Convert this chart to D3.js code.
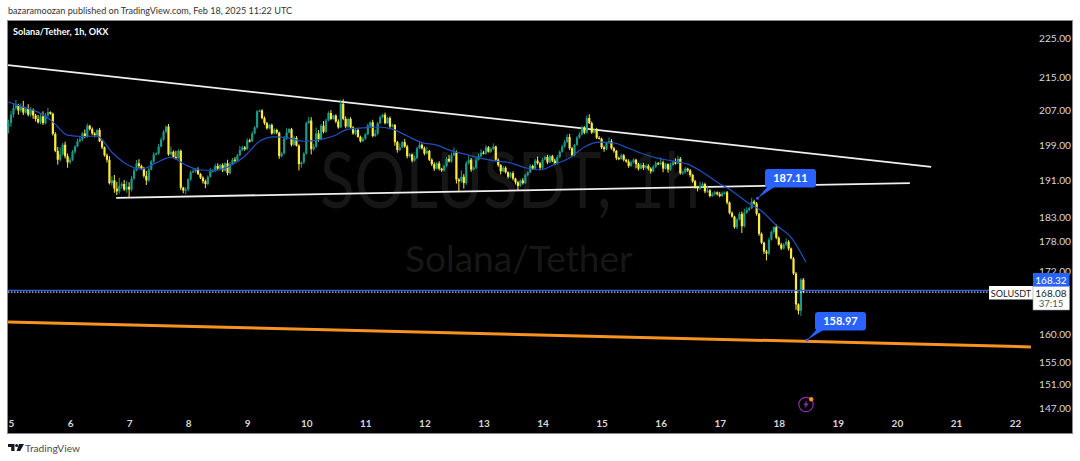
<!DOCTYPE html>
<html><head><meta charset="utf-8">
<script src="https://cdnjs.cloudflare.com/ajax/libs/d3/7.9.0/d3.min.js"></script>
<style>html,body{margin:0;padding:0;background:#fff;overflow:hidden}svg{display:block}text{font-family:Lato,sans-serif}</style>
</head><body><svg id="c" width="1080" height="461"></svg>
<script>
// hourly closes, one row per day
const closes = [
204.0,206.0,207.6,208.2,207.0,207.9,206.5,207.4,206.0,207.2,205.8,205.0,204.2,205.6,204.0,205.8,206.6,206.2,201.5,197.6,195.6,196.8,199.0,196.4,
195.0,195.6,197.4,198.6,199.8,200.2,201.6,200.8,203.4,202.6,201.6,201.2,202.4,199.8,198.4,196.6,195.6,190.4,191.0,189.2,188.6,189.8,190.2,189.0,
189.6,189.0,191.4,193.2,194.8,194.2,193.6,192.0,191.0,193.4,195.2,196.8,197.0,198.6,200.2,202.0,203.2,196.8,197.4,196.2,196.0,197.6,189.4,188.8,
189.0,191.2,192.8,193.0,193.4,192.4,191.6,190.8,190.2,191.8,193.0,193.2,194.2,193.6,194.4,193.2,194.8,192.6,194.6,195.6,195.4,196.6,197.8,198.4,
198.0,200.0,199.8,201.6,203.0,206.8,207.0,205.2,204.0,202.8,203.6,201.6,202.4,201.8,196.4,197.0,200.4,201.8,202.6,199.0,200.6,198.8,194.6,195.0,
197.0,204.0,204.6,198.0,198.6,201.6,200.2,203.4,202.0,204.6,206.4,205.0,205.8,204.4,203.0,208.6,205.0,203.2,205.0,203.0,201.6,202.4,200.8,199.8,
200.4,201.4,203.4,204.2,201.0,201.6,204.0,205.4,206.0,204.0,205.2,203.2,203.6,199.6,197.8,198.4,199.6,198.6,196.4,196.8,195.4,196.0,198.2,199.0,
198.2,197.0,197.6,195.6,194.6,193.6,194.8,193.6,193.2,194.2,195.8,195.2,196.6,197.2,191.2,190.8,191.8,190.4,194.8,195.6,193.4,193.8,195.6,196.4,
197.2,197.0,198.4,197.4,198.0,198.6,195.6,194.4,193.0,193.8,192.8,191.8,192.6,191.4,190.6,189.8,191.0,190.4,192.2,192.8,194.2,193.6,195.4,194.8,
193.8,195.6,196.2,195.0,196.4,195.4,194.8,196.2,197.4,198.6,199.6,200.8,198.2,196.6,199.0,200.6,201.4,203.0,201.8,205.2,204.0,201.8,202.4,200.6,
200.4,198.4,198.0,199.4,199.8,198.2,197.6,196.0,195.8,196.6,195.6,195.2,194.2,195.0,195.6,194.6,193.6,194.4,193.8,194.2,193.6,193.0,194.0,194.8,
194.6,195.0,193.6,194.6,193.4,194.4,195.0,194.8,195.8,192.6,192.8,193.6,193.2,192.2,190.8,189.6,189.2,189.8,190.2,188.6,188.8,187.6,188.0,188.4,
188.0,187.6,188.2,188.4,186.2,184.0,183.2,181.0,182.6,183.8,181.2,184.0,184.6,185.0,186.4,186.0,183.8,179.6,177.8,176.0,175.6,178.4,180.0,181.0,
178.8,177.4,176.6,177.4,178.0,176.6,174.6,171.6,165.6,164.4,170.4,168.08];
const wickUp = [
0.8,0.9,1.2,1.3,0.4,0.8,1.4,0.5,1.1,0.6,0.3,0.4,0.9,0.5,1.2,0.6,1.0,0.2,0.3,0.4,0.9,1.6,0.4,0.7,
0.6,0.5,0.4,0.3,0.6,0.8,0.3,0.9,0.5,0.2,0.4,0.3,0.2,0.5,0.3,0.2,0.4,0.8,0.9,1.2,1.5,1.8,0.4,0.9,
1.3,1.0,0.6,0.5,0.7,0.9,0.3,0.4,1.1,0.4,0.3,0.5,0.3,0.6,0.5,0.4,0.3,0.6,1.2,0.3,1.4,0.4,0.3,0.2,
0.5,0.3,0.4,0.6,0.3,0.5,0.2,0.3,0.4,0.3,0.7,0.3,0.5,0.6,0.3,0.4,0.2,0.8,0.5,0.4,0.6,0.3,0.9,0.4,
0.3,0.5,0.4,0.5,0.3,0.3,0.2,0.3,0.4,0.3,0.2,0.3,0.4,0.3,0.2,0.4,0.6,1.0,0.3,0.3,0.5,0.4,0.3,0.2,
0.3,0.4,0.9,0.8,0.6,1.4,0.8,0.4,1.1,0.5,0.4,0.7,0.2,0.3,0.5,0.9,1.1,0.6,0.2,0.4,0.3,0.2,0.4,0.3,
0.4,0.3,0.5,0.2,0.6,0.9,0.3,0.4,0.2,0.5,0.3,0.4,0.3,0.2,0.3,0.9,0.3,0.7,0.4,0.3,0.2,0.5,0.4,0.6,
0.3,0.4,1.0,0.2,0.3,0.4,0.3,0.5,0.2,0.3,0.4,0.9,0.6,1.2,0.5,0.3,1.4,0.6,0.5,0.9,0.4,0.3,0.4,0.6,
0.8,0.4,0.5,0.3,0.4,0.7,0.2,0.3,0.2,0.4,0.3,0.2,0.3,0.4,0.2,0.3,0.2,0.5,0.3,0.2,0.4,0.3,0.4,0.9,
0.3,0.4,0.3,0.5,0.2,0.3,0.4,0.5,0.3,0.4,0.5,0.6,0.7,0.3,0.2,0.4,0.5,0.4,0.3,0.6,0.9,0.4,0.3,0.5,
0.4,0.2,0.4,0.3,0.9,0.5,0.3,0.2,0.3,0.4,0.3,0.2,0.5,0.4,0.3,0.2,0.3,0.4,0.5,0.3,0.4,0.3,0.4,0.5,
0.3,1.1,0.4,0.3,0.2,0.5,0.4,0.9,0.7,0.4,0.3,0.4,0.2,0.3,0.2,0.3,0.2,0.9,0.4,0.3,1.1,0.3,0.4,0.3,
0.2,0.5,0.4,0.2,0.3,0.2,0.3,0.2,0.3,0.4,0.5,0.9,0.6,0.3,0.8,0.4,0.3,0.2,0.3,0.2,0.3,0.4,0.3,0.2,
0.6,0.3,0.4,0.3,0.7,0.3,0.2,0.3,0.3,0.2,0.3,0.3];
const wickDown = [
1.6,0.9,0.7,0.5,1.0,0.4,0.6,0.3,0.4,0.5,0.8,0.6,0.3,0.5,0.4,0.3,0.4,0.2,0.4,0.3,1.1,0.4,0.3,0.5,
1.2,0.4,0.3,0.5,0.2,0.3,0.4,0.3,0.2,0.3,0.4,0.5,0.3,0.2,0.4,0.3,0.6,0.3,0.6,0.9,0.8,0.5,0.6,0.3,
0.7,1.7,0.4,0.3,0.2,0.5,0.3,0.4,1.0,0.3,0.2,0.4,0.2,0.3,0.2,0.3,0.4,0.3,0.2,0.3,0.4,0.3,0.5,0.6,
0.8,0.4,0.3,0.2,0.3,0.2,0.3,0.5,0.9,0.3,0.2,0.3,0.4,0.3,0.2,0.4,0.3,0.5,0.3,0.2,0.4,0.3,0.2,0.3,
0.4,0.2,0.3,0.2,0.2,0.3,0.2,0.3,0.4,0.3,0.2,0.3,0.2,0.4,0.6,0.3,0.2,0.3,0.2,0.4,0.3,0.2,1.4,0.8,
0.4,0.3,0.2,1.2,0.4,0.3,0.5,0.2,0.4,0.3,0.2,0.3,0.2,0.4,0.3,0.2,0.3,0.4,0.3,0.2,0.3,0.4,0.2,0.3,
0.2,0.3,0.2,0.3,0.3,0.2,0.4,0.2,0.3,0.3,0.2,0.3,0.2,0.8,0.6,0.3,0.2,0.3,0.5,0.3,0.4,0.2,0.3,0.2,
0.3,0.4,0.2,0.3,0.4,0.5,0.2,0.4,0.3,0.2,0.3,0.2,0.3,0.2,0.9,2.1,0.3,1.2,0.4,0.3,0.5,0.2,0.3,0.2,
0.3,0.2,0.3,0.2,0.3,0.2,0.3,0.4,0.7,0.2,0.3,0.4,0.3,0.4,0.5,0.9,0.2,0.3,0.2,0.3,0.2,0.3,0.2,0.3,
0.5,0.3,0.2,0.4,0.2,0.3,0.4,0.2,0.3,0.2,0.3,0.2,0.4,0.3,0.2,0.3,0.2,0.3,0.4,0.3,0.2,0.3,0.2,0.3,
0.2,0.4,0.6,0.3,0.2,0.3,0.4,0.5,0.3,0.2,0.4,0.3,0.4,0.2,0.3,0.9,0.4,0.2,0.5,0.3,0.4,0.5,0.2,0.3,
0.2,0.3,0.8,0.2,0.7,0.3,0.2,0.3,0.2,0.3,0.4,0.2,0.3,0.4,0.3,0.4,0.6,0.3,0.2,0.4,0.3,0.3,0.2,0.3,
0.3,0.3,0.2,0.3,0.4,0.3,0.2,0.3,0.4,0.2,1.4,0.3,0.2,0.3,0.2,0.3,0.4,0.4,0.3,0.5,1.4,0.3,0.2,0.4,
0.3,0.2,0.3,0.2,0.3,0.4,0.2,0.3,1.0,0.7,1.0,0.3];
// moving average, one reading every six candles
const maEvery = 6;
const maValues = [209.0,207.8,206.6,204.3,201.2,200.9,201.0,197.3,194.6,193.5,194.9,196.2,194.4,193.3,193.2,194.2,196.4,199.8,200.8,200.5,199.8,200.1,201.0,202.6,202.9,203.1,202.6,201.0,199.5,198.9,197.6,196.8,195.9,195.3,194.9,193.8,193.3,194.6,196.0,198.5,199.6,199.4,198.2,196.9,195.9,195.3,194.6,192.8,190.6,188.7,186.3,184.4,181.4,178.9,173.9];
const priceTicks = [225,215,207,199,191,183,178,172,160,155,151,147];
const dayTicks = [5,6,7,8,9,10,11,12,13,14,15,16,17,18,19,20,21,22];
const upperLine = [[4.95,218.1],[20.58,194.0]];
const lowerLine = [[6.78,187.2],[20.22,190.4]];
const orangeLine = [[4.95,162.3],[22.27,157.7]];
const calloutHigh = {label:"187.11", day:17.64, price:187.11};
const calloutLow = {label:"158.97", day:18.48, price:158.97};
const lastPrice = 168.08, prevPrice = 168.32;
const title = "bazaramoozan published on TradingView.com, Feb 18, 2025 11:22 UTC";
const legend = "Solana/Tether, 1h, OKX";

const svg = d3.select("#c");
const x = d3.scaleLinear().domain([5,22]).range([11,1015]);
const y = d3.scaleLog().domain([147,225]).range([408,38]);
const candleDay = i => 5 + (i-1)/24;
const UP="#1a9b89", DOWN="#ffeb3b", F='Lato,sans-serif';

svg.append("text").attr("x",8).attr("y",14).attr("font-size",9.1).attr("fill","#333").text(title);
svg.append("rect").attr("x",7.5).attr("y",20.5).attr("width",1065).attr("height",413).attr("fill","#000").attr("stroke","#8a8a8a");

svg.append("text").attr("x",320).attr("y",208).attr("font-size",77).attr("fill","#161616")
  .attr("textLength",380).attr("lengthAdjust","spacingAndGlyphs").text("SOLUSDT, 1h");
svg.append("text").attr("x",405).attr("y",272).attr("font-size",37).attr("fill","#161616").text("Solana/Tether");
svg.append("text").attr("x",13).attr("y",34.5).attr("font-size",9.1).attr("font-weight",700).attr("fill","#fff").text(legend);

const line = d3.line().x(d=>x(d[0])).y(d=>y(d[1]));
svg.append("path").datum(upperLine).attr("d",line).attr("stroke","#f0f0f0").attr("stroke-width",1.8).attr("fill","none");
svg.append("path").datum(lowerLine).attr("d",line).attr("stroke","#f0f0f0").attr("stroke-width",1.8).attr("fill","none");
svg.append("path").datum(orangeLine).attr("d",line).attr("stroke","#f7931e").attr("stroke-width",3).attr("fill","none");

const candles = closes.map((c,i)=>{
  const o = i? closes[i-1] : c-0.8;
  return {i,o,c,h:Math.max(o,c)+wickUp[i],l:Math.min(o,c)-wickDown[i]};
});
const g = svg.append("g");
g.selectAll("line").data(candles).join("line")
 .attr("x1",d=>x(candleDay(d.i))).attr("x2",d=>x(candleDay(d.i)))
 .attr("y1",d=>y(d.h)).attr("y2",d=>y(d.l))
 .attr("stroke",d=>d.c>=d.o?UP:DOWN).attr("stroke-width",1);
g.selectAll("rect").data(candles).join("rect")
 .attr("x",d=>x(candleDay(d.i))-1.1).attr("width",2.2)
 .attr("y",d=>y(Math.max(d.o,d.c)))
 .attr("height",d=>Math.max(1.2,y(Math.min(d.o,d.c))-y(Math.max(d.o,d.c))))
 .attr("fill",d=>d.c>=d.o?UP:DOWN);

svg.append("path").datum(maValues.map((v,k)=>[candleDay(k*maEvery),v]))
 .attr("d",d3.line().x(d=>x(d[0])).y(d=>y(d[1])).curve(d3.curveMonotoneX))
 .attr("fill","none").attr("stroke","#1f4fc4").attr("stroke-width",1.2);

// price lines
svg.append("line").attr("x1",8).attr("x2",990).attr("y1",y(prevPrice)).attr("y2",y(prevPrice)).attr("stroke","#2962ff").attr("stroke-width",1.2);
svg.append("line").attr("x1",8).attr("x2",990).attr("y1",y(lastPrice)+0.6).attr("y2",y(lastPrice)+0.6).attr("stroke","#fff").attr("stroke-width",1).attr("stroke-dasharray","1.5 1.5");

// axes
const ay = svg.append("g").attr("transform","translate(1039,0)").call(d3.axisRight(y).tickValues(priceTicks).tickSize(0).tickFormat(d3.format(".2f")));
ay.select(".domain").remove();
ay.selectAll("text").attr("x",0).attr("fill","#d8d8d8").attr("font-size",10.2).attr("font-family",F);
const ax = svg.append("g").attr("transform","translate(0,423)").call(d3.axisBottom(x).tickValues(dayTicks).tickSize(0).tickFormat(d3.format("d")));
ax.select(".domain").remove();
ax.selectAll("text").attr("y",0).attr("dy","0.35em").attr("fill","#d8d8d8").attr("font-size",10).attr("font-weight",700).attr("font-family",F);

// price labels
const lab = svg.append("g");
lab.append("rect").attr("x",989).attr("y",286).attr("width",44).attr("height",13.5).attr("fill","#fff");
lab.append("text").attr("x",1011).attr("y",296.5).attr("text-anchor","middle").attr("font-size",9.1).attr("fill","#222").text("SOLUSDT");
lab.append("rect").attr("x",1033).attr("y",286).attr("width",36.5).attr("height",24).attr("fill","#fff").attr("stroke","#999").attr("stroke-width",0.6);
lab.append("rect").attr("x",1033).attr("y",273).attr("width",36.5).attr("height",13.5).attr("fill","#2962ff");
lab.append("text").attr("x",1051).attr("y",283.5).attr("text-anchor","middle").attr("font-size",10).attr("fill","#fff").text(prevPrice.toFixed(2));
lab.append("text").attr("x",1051).attr("y",296.5).attr("text-anchor","middle").attr("font-size",10).attr("fill","#222").text(lastPrice.toFixed(2));
lab.append("text").attr("x",1051).attr("y",307).attr("text-anchor","middle").attr("font-size",9.6).attr("fill","#555").text("37:15");

// callouts
function callout(c,bx,by,tail){
  const ax=x(c.day), ay2=y(c.price), g=svg.append("g");
  g.append("path").attr("d",`M${ax} ${ay2}L${tail[0]} ${tail[1]}L${tail[2]} ${tail[3]}Z`).attr("fill","#2962ff");
  g.append("circle").attr("cx",ax).attr("cy",ay2).attr("r",1.5).attr("fill","#2962ff");
  g.append("rect").attr("x",bx).attr("y",by).attr("width",51).attr("height",18.5).attr("rx",3).attr("fill","#2962ff");
  g.append("text").attr("x",bx+25.5).attr("y",by+13.2).attr("text-anchor","middle").attr("font-size",11).attr("font-weight",700).attr("fill","#fff").text(c.label);
}
callout(calloutHigh,765,169,[768,186,776,186]);
callout(calloutLow,815,312,[817,329,825,329]);

// bolt icon
const ic=svg.append("g").attr("transform","translate(806,404.5)");
ic.append("circle").attr("r",7.2).attr("fill","none").attr("stroke","#8e2fa8").attr("stroke-width",1.2);
ic.append("path").attr("d","M1.5-4.2L-2.8 0.8H-0.3L-1.6 4.2L2.8-0.9H0.2Z").attr("fill","#8e2fa8");
ic.append("circle").attr("cx",5.2).attr("cy",-5.2).attr("r",2.2).attr("fill","#f7931e");

// footer brand
const lg=svg.append("g").attr("transform","translate(8,444)").attr("fill","#131722");
lg.append("path").attr("d","M0 0H6.5V7H3.2V3H0Z");
lg.append("circle").attr("cx",8.6).attr("cy",1.5).attr("r",1.5);
lg.append("path").attr("d","M11 0H16L12.2 7H8.6Z");
svg.append("text").attr("x",25).attr("y",451.5).attr("font-size",10.2).attr("fill","#4a4a4a").text("TradingView");
</script></body></html>
